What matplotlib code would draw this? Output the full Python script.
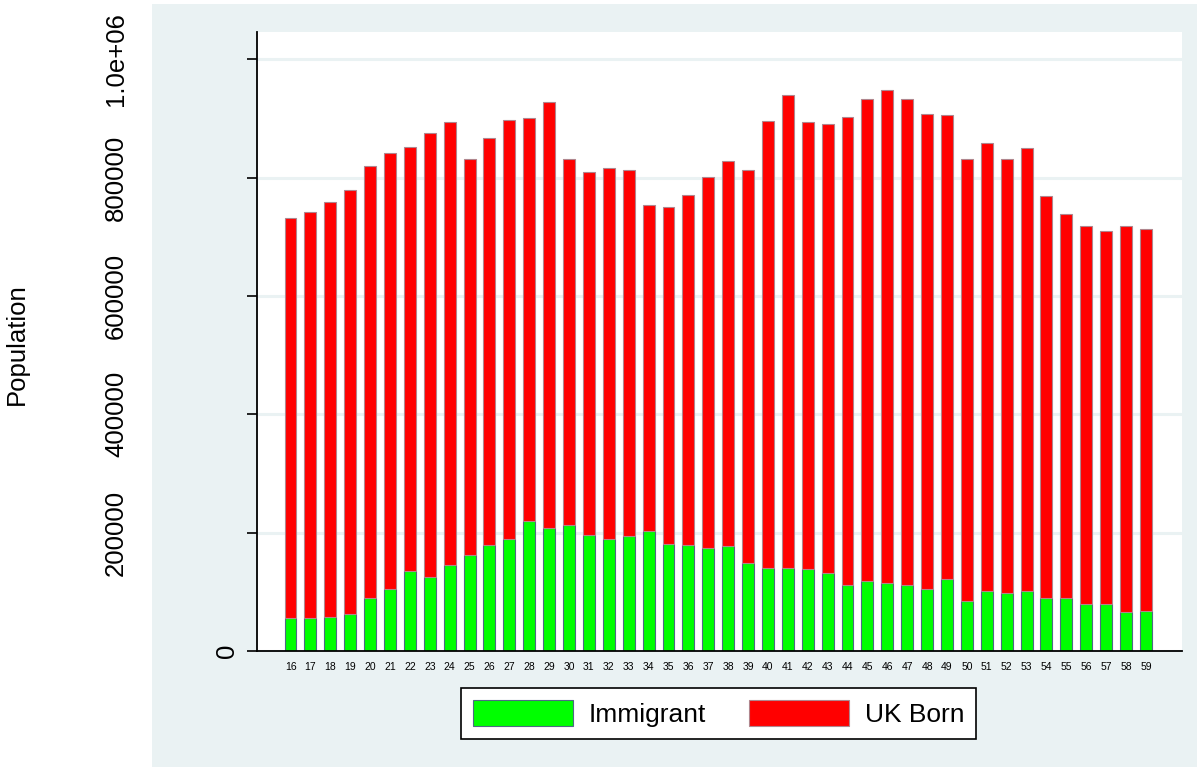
import numpy as np
import matplotlib
matplotlib.use("Agg")
import matplotlib.pyplot as plt
from matplotlib.patches import Patch
from matplotlib.transforms import blended_transform_factory

plt.rcParams['font.family'] = ['Liberation Sans', 'DejaVu Sans']

# population by single year of age, 16-59
ages = np.arange(16, 60)
immigrant = np.array([55500, 55000, 56700, 62300, 88800, 105200, 134500, 125500,
                      145200, 162100, 178500, 189800, 219100, 208500, 212400, 196000,
                      189800, 194900, 202200, 180200, 179000, 174000, 178000, 148600,
                      140800, 140100, 138400, 132300, 111300, 117600, 114700, 111300,
                      104600, 122200, 84300, 101900, 97800, 101900, 90000, 90000,
                      78700, 78700, 65700, 67300])
total = np.array([731000, 741000, 759000, 779000, 820000, 841000, 852000, 875000,
                  894000, 832000, 867000, 898000, 900000, 928000, 831000, 810000,
                  817000, 813000, 754000, 750000, 771000, 801000, 828000, 813000,
                  895000, 940000, 894000, 890000, 903000, 933000, 948000, 933000,
                  908000, 906000, 832000, 858000, 831000, 850000, 769000, 738000,
                  718000, 710000, 718000, 713000])
uk_born = total - immigrant

yticks = [0, 200000, 400000, 600000, 800000, 1000000]
ytick_labels = ['0', '200000', '400000', '600000', '800000', '1.0e+06']

W, H = 1197, 767
fig = plt.figure(figsize=(W / 100, H / 100), dpi=100)
fig.patch.set_facecolor('white')

# graph region background (drawn as an empty axes behind the plot)
bg = '#EAF2F3'
bg_ax = fig.add_axes([152 / W, 0, 1 - 152 / W, 763 / H], zorder=-1)
bg_ax.set_facecolor(bg)
bg_ax.set_xticks([])
bg_ax.set_yticks([])
for s in bg_ax.spines.values():
    s.set_visible(False)

ax = fig.add_axes([256.7 / W, 116 / H, 925 / W, 619 / H], zorder=1)
ax.set_facecolor('white')

ax.bar(ages, immigrant, width=0.6, color='#00FF00', edgecolor='#4d6b84',
       linewidth=0.8, zorder=3)
ax.bar(ages, uk_born, width=0.6, bottom=immigrant, color='#FF0000',
       edgecolor='#b0868e', linewidth=0.8, zorder=3)

ax.set_xlim(14.3, 60.8)
ax.set_ylim(0, 1.046e6)

for s in ['top', 'right']:
    ax.spines[s].set_visible(False)
for s in ['left', 'bottom']:
    ax.spines[s].set_linewidth(1.3)
    ax.spines[s].set_color('black')
    ax.spines[s].set_zorder(4)

ax.set_xticks(ages)
ax.set_xticklabels([str(a) for a in ages])
ax.tick_params(axis='x', length=0, pad=8, labelsize=7.5)

ax.set_yticks(yticks)
ax.tick_params(axis='y', length=7.2, width=1.2, labelleft=False)
ax.yaxis.grid(True, color=bg, linewidth=2.2, zorder=0)
ax.set_axisbelow(True)

# rotated y tick labels, right-aligned on their unrotated width
tr = blended_transform_factory(fig.transFigure, ax.transData)
for v, lab in zip(yticks, ytick_labels):
    xc = 227 if lab == '0' else 116
    ax.text(xc / W, v, lab, transform=tr, rotation=90, ha='center',
            va='center', fontsize=18.5, clip_on=False)

fig.text(17 / W, 1 - 344 / H, 'Population', rotation=90, ha='center',
         va='center', fontsize=18.5)

handles = [Patch(facecolor='#00FF00', edgecolor='#4d6b84', linewidth=0.8),
           Patch(facecolor='#FF0000', edgecolor='#b0868e', linewidth=0.8)]
leg = fig.legend(handles, ['Immigrant', 'UK Born'], loc='center',
                 bbox_to_anchor=(718.5 / W, 53.5 / H), ncol=2, fontsize=19,
                 handlelength=3.8, handleheight=1.1, handletextpad=0.6,
                 columnspacing=1.6, borderpad=0.45, fancybox=False,
                 frameon=True, framealpha=1)
leg.get_frame().set_edgecolor('black')
leg.get_frame().set_linewidth(1.2)
leg.get_frame().set_facecolor('white')

fig.savefig('out.png', dpi=100, facecolor=fig.get_facecolor())
